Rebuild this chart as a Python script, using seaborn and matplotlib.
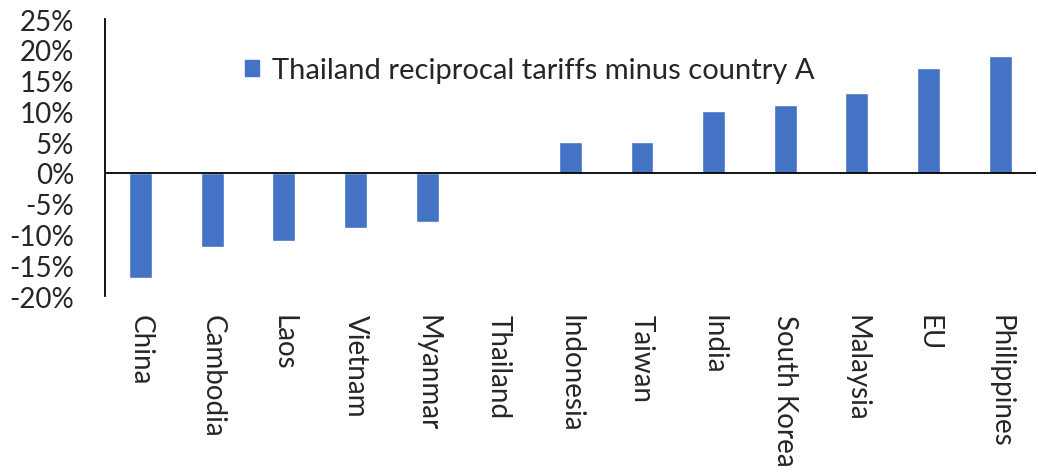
import pandas as pd
import seaborn as sns
import matplotlib.pyplot as plt
from matplotlib.patches import Patch

countries = ['China', 'Cambodia', 'Laos', 'Vietnam', 'Myanmar', 'Thailand', 'Indonesia',
             'Taiwan', 'India', 'South Korea', 'Malaysia', 'EU', 'Philippines']
diff = [-17, -12, -11, -9, -8, 0, 5, 5, 10, 11, 13, 17, 19]
yticks = [-20, -15, -10, -5, 0, 5, 10, 15, 20, 25]
seriesName = 'Thailand reciprocal tariffs minus country A'
barColor = '#4472C4'

df = pd.DataFrame({'country': countries, 'diff': diff})

sns.set_style('white')
plt.rcParams['font.family'] = ['Lato', 'DejaVu Sans']

fig = plt.figure(figsize=(10.38, 4.77), dpi=100)
ax = fig.add_axes([0.101, 0.377, 0.897, 0.581])
sns.barplot(x='country', y='diff', data=df, color=barColor, saturation=1,
            width=0.32, ax=ax)

ax.set_ylim(-20, 25)
ax.set_yticks(yticks)
ax.set_yticklabels([f'{v}%' for v in yticks], fontsize=20)
ax.tick_params(axis='x', labelrotation=-90, labelsize=20, pad=13, length=0)
ax.tick_params(axis='y', length=0, pad=22)
for lab in ax.get_xticklabels():
    lab.set_va('top')
    lab.set_ha('center')
ax.set_xlim(-0.5, len(countries) - 0.5)
ax.axhline(0, color='black', lw=1.3)
ax.set_xlabel('')
ax.set_ylabel('')
for s in ['top', 'right', 'bottom']:
    ax.spines[s].set_visible(False)
ax.spines['left'].set_color('black')
ax.spines['left'].set_linewidth(1.3)

ax.legend(handles=[Patch(color=barColor, label=seriesName)], loc='center left',
          bbox_to_anchor=(0.122, 0.815), frameon=False, fontsize=21,
          handlelength=0.5, handleheight=0.5, handletextpad=0.45)

fig.savefig('out.png', dpi=100)
